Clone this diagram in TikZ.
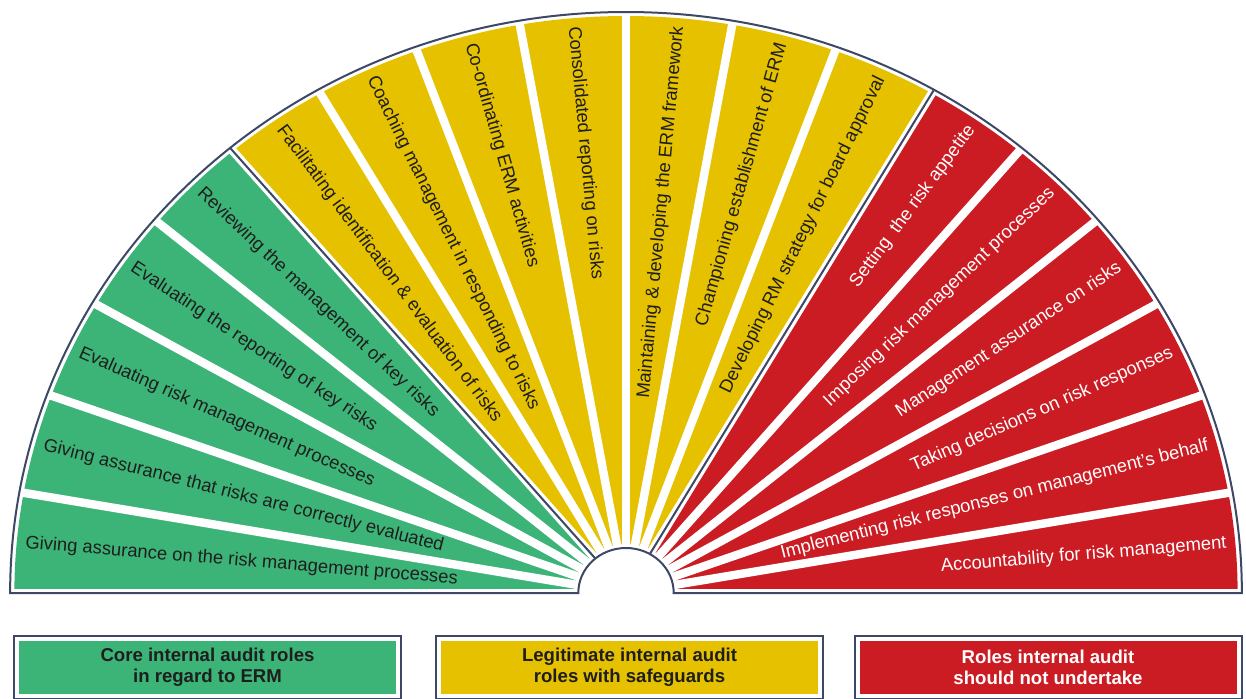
\documentclass[tikz,border=0pt]{standalone}
\usepackage{fontspec}
\setmainfont{Liberation Sans}
\definecolor{coregreen}{HTML}{3CB478}
\definecolor{safeyellow}{HTML}{E6C100}
\definecolor{notred}{HTML}{CB1B23}
\definecolor{rimblue}{HTML}{3D4866}
\definecolor{darkink}{HTML}{1E1E1E}
\tikzset{
  rim/.style={draw=rimblue, line width=1pt},
  gapline/.style={draw=white, line width=4.2pt},
  role/.style={inner sep=0pt, font=\fontsize{9.2}{11}\selectfont},
  legendbox/.style={draw=white, line width=1.5pt, minimum width=190pt, minimum height=28pt, align=center, font=\bfseries\fontsize{9.3}{10.5}\selectfont}
}
\begin{document}
\begin{tikzpicture}
\useasboundingbox (-313pt,-52.5pt) rectangle (310pt,296.5pt);
\clip (-313pt,-52.5pt) rectangle (310pt,296.5pt);

\begin{scope}[xscale=1.06]
\foreach \a [evaluate=\a as \b using int(\a+10)] in {0,10,...,170}
{
    \ifnum\a<60 \def\col{notred}\else\ifnum\a<130 \def\col{safeyellow}\else\def\col{coregreen}\fi\fi
    \fill[fill=\col] (\a:24.5pt) -- (\a:288.5pt) arc[start angle=\a, delta angle=10, radius=288.5pt] -- (\b:24.5pt) -- cycle;
}
\foreach \a in {0,10,...,180}
    \draw[gapline] (0,0) -- (\a:292pt);

\draw[rim] (180:290.5pt) arc[start angle=180, end angle=0, radius=290.5pt] -- (0:22.5pt) arc[start angle=0, end angle=180, radius=22.5pt] -- cycle;
\foreach \a in {60,130}
    \draw[rim] (\a:22.5pt) -- (\a:290.5pt);

\foreach \m/\ink/\txt in {
    5/white/{Accountability for risk management},
    15/white/{Implementing risk responses on management's behalf},
    25/white/{Taking decisions on risk responses},
    35/white/{Management assurance on risks},
    45/white/{Imposing risk management processes},
    55/white/{Setting~ the risk appetite},
    65/darkink/{Developing RM strategy for board approval},
    75/darkink/{Championing establishment of ERM},
    85/darkink/{Maintaining \& developing the ERM framework},
    95/darkink/{Consolidated reporting on risks},
    105/darkink/{Co-ordinating ERM activities},
    115/darkink/{Coaching management in responding to risks},
    125/darkink/{Facilitating identification \& evaluation of risks},
    135/darkink/{Reviewing the management of key risks},
    145/darkink/{Evaluating the reporting of key risks},
    155/darkink/{Evaluating risk management processes},
    165/darkink/{Giving assurance that risks are correctly evaluated},
    175/darkink/{Giving assurance on the risk management processes}}
{
    \pgfmathsetmacro\tilt{atan2(sin(\m),1.06*cos(\m))}
    \ifnum\m<90 \def\side{east}\def\turn{0}\else\def\side{west}\def\turn{180}\fi
    \node[role, text=\ink, anchor=\side, rotate=\tilt-\turn] (role\m) at (\m:284.5pt) {\txt};
}
\end{scope}

\node[legendbox, fill=coregreen, text=darkink] (core) at (-209.25pt,-37.25pt) {Core internal audit roles\\in regard to ERM};
\node[legendbox, fill=safeyellow, text=darkink] (legit) at (1.75pt,-37.25pt) {Legitimate internal audit\\roles with safeguards};
\node[legendbox, fill=notred, text=white] (notdo) at (211pt,-37.25pt) {Roles internal audit\\should not undertake};
\foreach \b in {core,legit,notdo}
    \draw[rim] ([shift={(-1pt,1pt)}]\b.north west) rectangle ([shift={(1pt,-1pt)}]\b.south east);
\end{tikzpicture}
\end{document}
